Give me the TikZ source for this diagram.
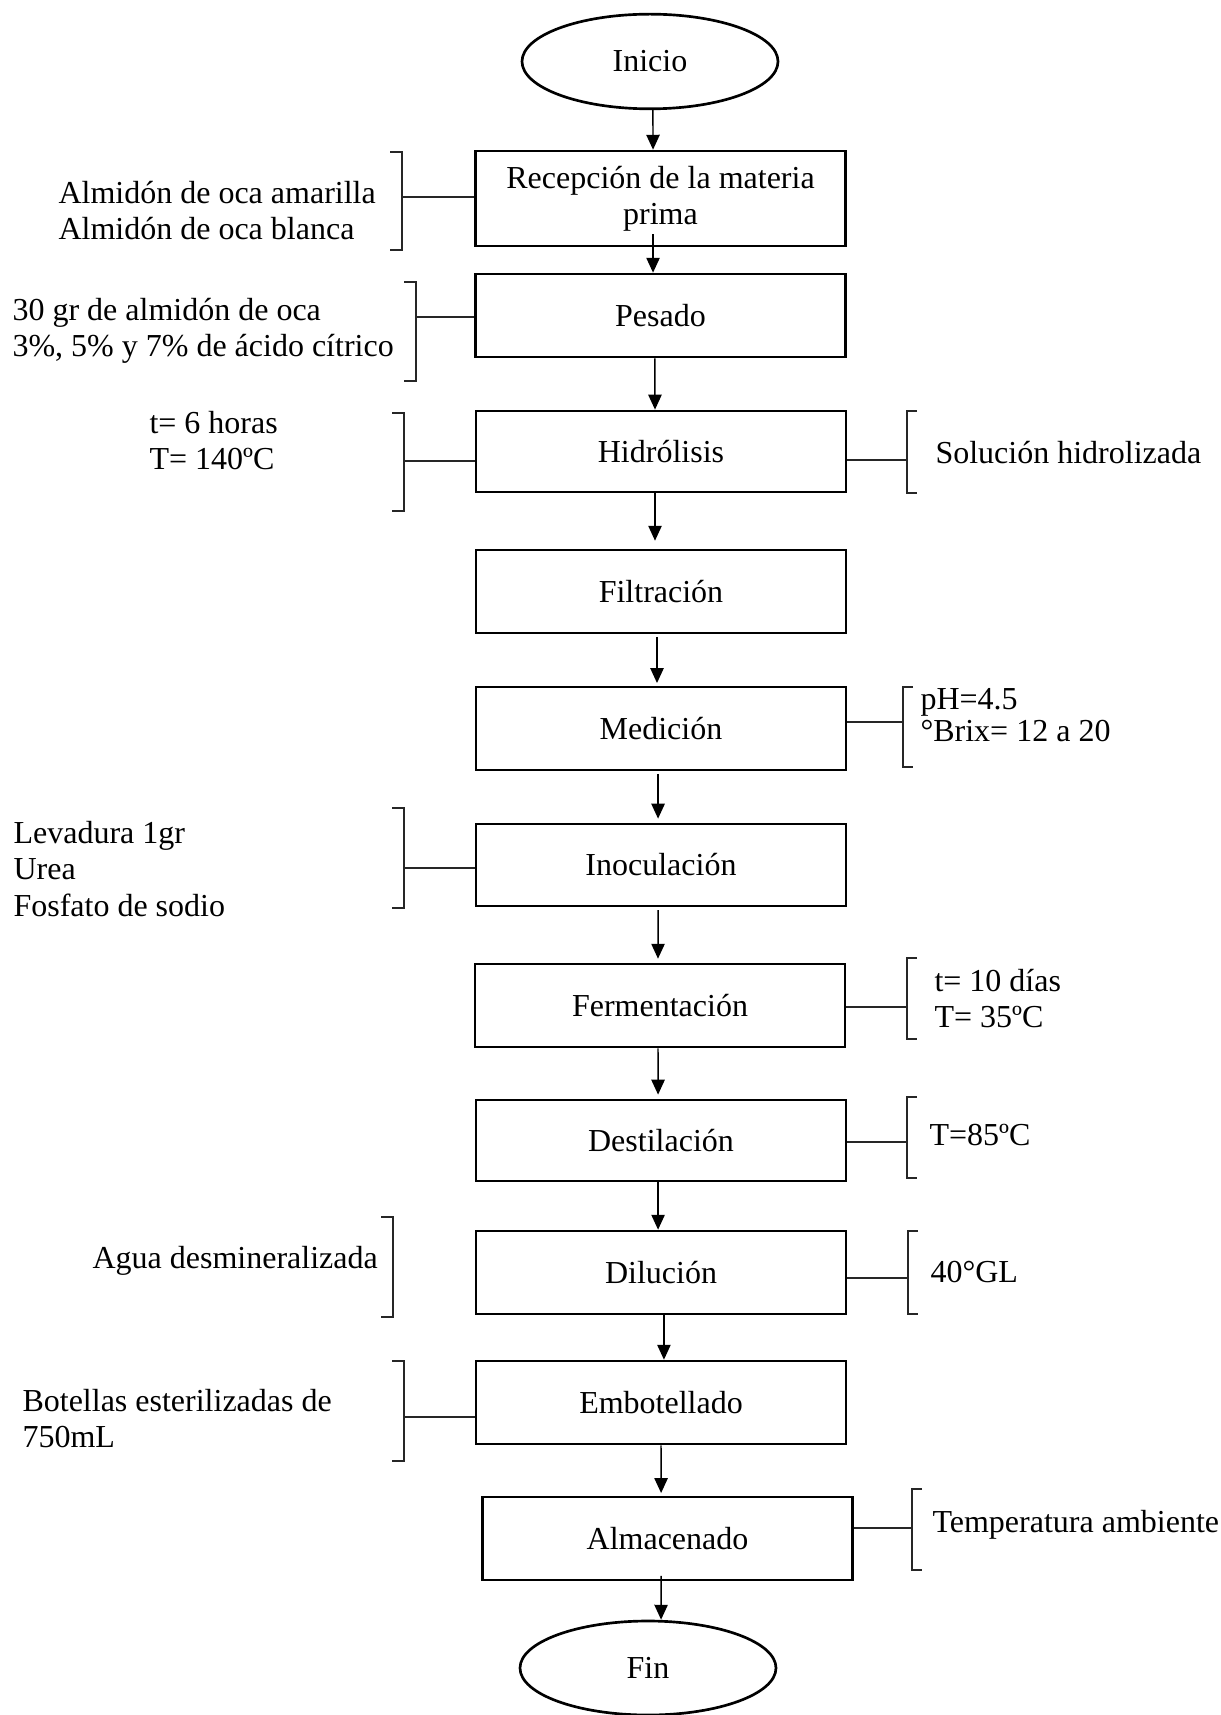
\documentclass[tikz,border=0pt]{standalone}
\usepackage{fontspec}
\setmainfont{Liberation Serif}
\usetikzlibrary{shapes.geometric,arrows.meta}
\begin{document}
\begin{tikzpicture}[x=0.375pt,y=-0.375pt,
  font=\fontsize{12pt}{13.6pt}\selectfont,
  proc/.style={draw, line width=1pt, minimum width=138.75pt, inner sep=0pt, align=center},
  term/.style={draw, ellipse, line width=1pt, minimum width=96pt, minimum height=35.5pt, inner sep=0pt},
  arr/.style={-{Triangle[length=5.6pt,width=5pt]}, line width=0.55pt},
  link/.style={line width=0.55pt, black!85},
  brk/.style={line width=0.55pt, black!85},
  note/.style={anchor=west, align=left, inner sep=0pt}]
\useasboundingbox (0,0) rectangle (1220,1715);

% process nodes
\node[term] (ini) at (650,61.5) {Inicio};
\node[proc, minimum height=35.6pt] (rec) at (660.5,198.5) {Recepción de la materia\\prima};
\node[proc, minimum height=31.1pt] (pes) at (660.5,315.5) {Pesado};
\node[proc, minimum height=30.4pt] (hid) at (661,451.5) {Hidrólisis};
\node[proc, minimum height=31.1pt] (fil) at (661,591.5) {Filtración};
\node[proc, minimum height=31.1pt] (med) at (661,728.5) {Medición};
\node[proc, minimum height=30.75pt] (ino) at (661,865) {Inoculación};
\node[proc, minimum height=31.1pt] (fer) at (660,1005.5) {Fermentación};
\node[proc, minimum height=30.4pt] (des) at (661,1140.5) {Destilación};
\node[proc, minimum height=31.1pt] (dil) at (661,1272.5) {Dilución};
\node[proc, minimum height=31.1pt] (emb) at (661,1402.5) {Embotellado};
\node[proc, minimum height=31.1pt] (alm) at (667.5,1538.5) {Almacenado};
\node[term, minimum height=35.25pt] (fin) at (648,1668) {Fin};

% main flow arrows
\draw[arr] ([xshift=1.1pt]ini.south) -- ([xshift=-2.8pt]rec.north);
\draw[arr] ([xshift=-2.8pt,yshift=4.9pt]rec.south) -- ([xshift=-2.8pt]pes.north);
\draw[arr] ([xshift=-2.1pt]pes.south) -- ([xshift=-2.25pt]hid.north);
\draw[arr] ([xshift=-2.25pt]hid.south) -- ([xshift=-2.25pt,yshift=3pt]fil.north);
\draw[arr] ([xshift=-1.5pt,yshift=-1pt]fil.south) -- ([xshift=-1.5pt,yshift=1pt]med.north);
\draw[arr] ([xshift=-1.1pt,yshift=-1pt]med.south) -- ([xshift=-1.1pt,yshift=1.5pt]ino.north);
\draw[arr] ([xshift=-1.1pt,yshift=-1pt]ino.south) -- ([xshift=-0.75pt,yshift=1.5pt]fer.north);
\draw[arr] ([xshift=-0.75pt]fer.south) -- ([xshift=-1.1pt,yshift=1.5pt]des.north);
\draw[arr] ([xshift=-1.1pt]des.south) -- ([xshift=-1.1pt]dil.north);
\draw[arr] ([xshift=1.1pt]dil.south) -- ([xshift=1.1pt]emb.north);
\draw[arr] ([xshift=0pt]emb.south) -- ([xshift=-2.4pt,yshift=1pt]alm.north);
\draw[arr] ([xshift=-2.4pt,yshift=2pt]alm.south) -- ([xshift=4.9pt]fin.north);

% left brackets and links
\coordinate (recB) at (402,197);
\draw[brk] (390,152) -- (402,152) -- (402,250) -- (390,250);
\draw[link] (recB) -- (rec.west |- recB);

\coordinate (pesB) at (416,317);
\draw[brk] (404,282) -- (416,282) -- (416,381) -- (404,381);
\draw[link] (pesB) -- (pes.west |- pesB);

\coordinate (hidB) at (404,461);
\draw[brk] (392,413) -- (404,413) -- (404,511) -- (392,511);
\draw[link] (hidB) -- (hid.west |- hidB);

\coordinate (inoB) at (404,868);
\draw[brk] (392,808) -- (404,808) -- (404,908) -- (392,908);
\draw[link] (inoB) -- (ino.west |- inoB);

\draw[brk] (381,1217) -- (393,1217) -- (393,1317) -- (381,1317);

\coordinate (embB) at (404,1417);
\draw[brk] (392,1361) -- (404,1361) -- (404,1461) -- (392,1461);
\draw[link] (embB) -- (emb.west |- embB);

% right brackets and links
\coordinate (hidR) at (907,460);
\draw[brk] (917,411) -- (907,411) -- (907,493) -- (917,493);
\draw[link] (hid.east |- hidR) -- (hidR);

\coordinate (medR) at (903,722);
\draw[brk] (913,687) -- (903,687) -- (903,767) -- (913,767);
\draw[link] (med.east |- medR) -- (medR);

\coordinate (ferR) at (907,1007);
\draw[brk] (917,958) -- (907,958) -- (907,1039) -- (917,1039);
\draw[link] (fer.east |- ferR) -- (ferR);

\coordinate (desR) at (907,1142);
\draw[brk] (917,1097) -- (907,1097) -- (907,1178) -- (917,1178);
\draw[link] (des.east |- desR) -- (desR);

\coordinate (dilR) at (908,1278);
\draw[brk] (918,1231) -- (908,1231) -- (908,1314) -- (918,1314);
\draw[link] (dil.east |- dilR) -- (dilR);

\coordinate (almR) at (912,1528);
\draw[brk] (922,1489) -- (912,1489) -- (912,1570) -- (922,1570);
\draw[link] (alm.east |- almR) -- (almR);

% annotation texts
\node[note] (recL) at (58,210.5) {Almidón de oca amarilla\\Almidón de oca blanca};
\node[note] (pesL) at (12,330.5) {30 gr de almidón de oca\\3\%, 5\% y 7\% de ácido cítrico};
\node[note] (hidL) at (149,440.5) {t= 6 horas\\T= 140ºC};
\node[note] (hidT) at (935,453) {Solución hidrolizada};
\node[note, font=\fontsize{12pt}{12pt}\selectfont] (medT) at (920,715) {pH=4.5\\°Brix= 12 a 20};
\node[note] (inoL) at (13,869) {Levadura 1gr\\Urea\\Fosfato de sodio};
\node[note] (ferT) at (934,998.5) {t= 10 días\\T= 35ºC};
\node[note] (desT) at (929,1135) {T=85ºC};
\node[note] (dilL) at (92,1261) {Agua desmineralizada};
\node[note] (dilT) at (930,1272) {40°GL};
\node[note] (embL) at (22,1418.5) {Botellas esterilizadas de\\750mL};
\node[note] (almT) at (932,1525) {Temperatura ambiente};
\end{tikzpicture}
\end{document}
